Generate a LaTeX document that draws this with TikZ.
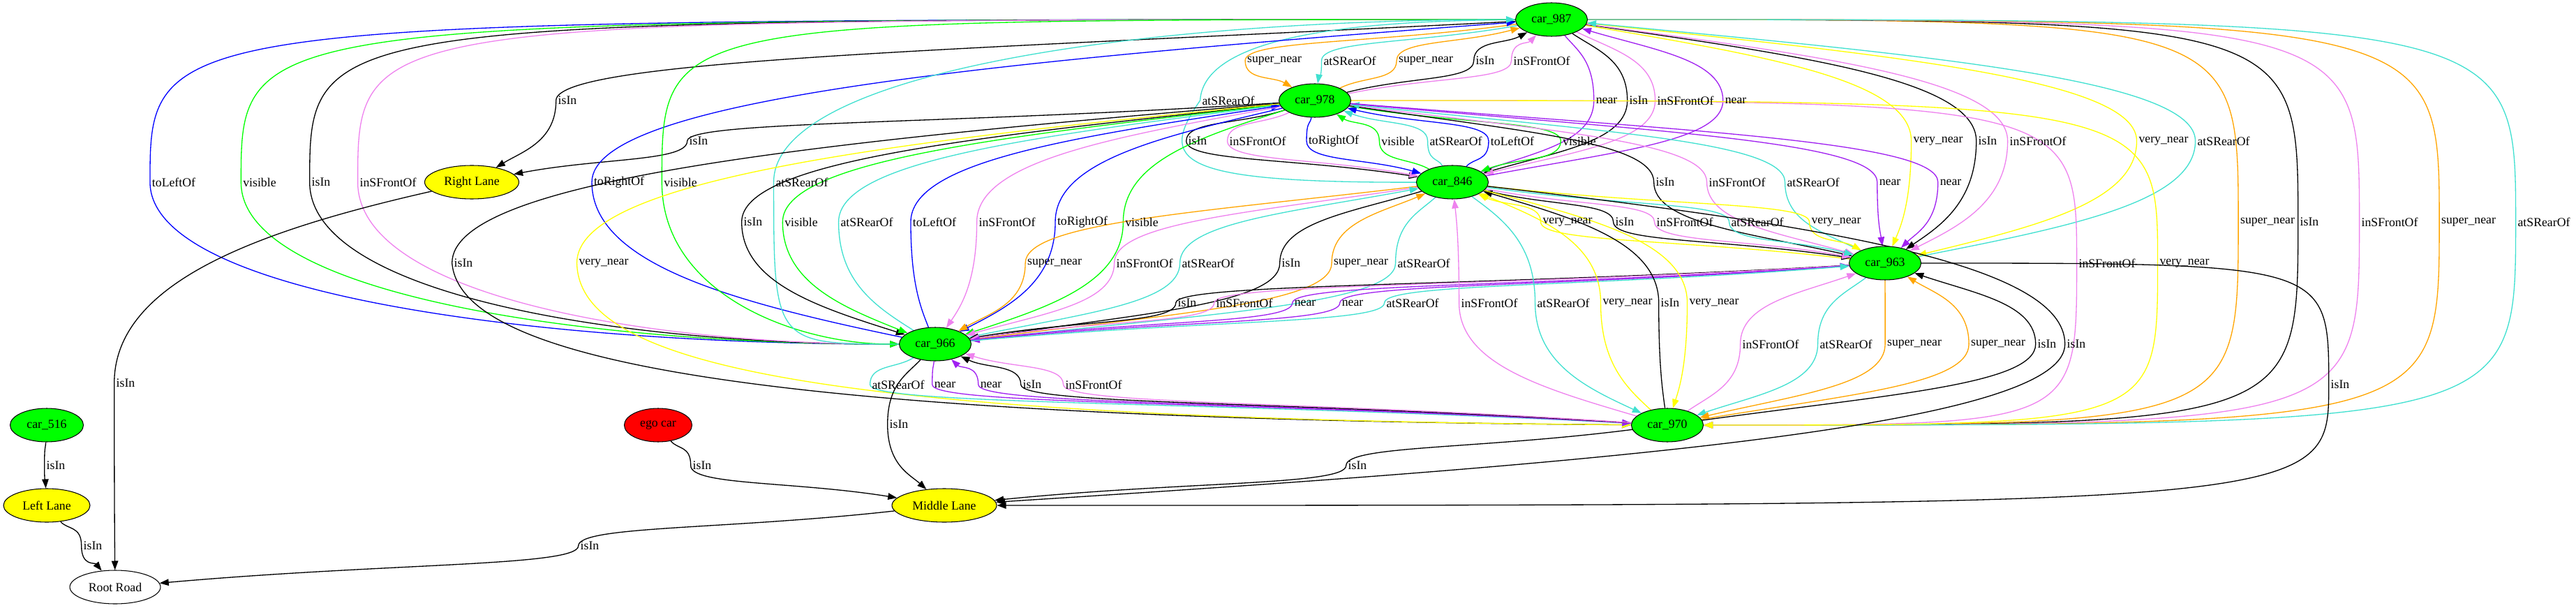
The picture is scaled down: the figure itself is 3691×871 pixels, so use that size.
\documentclass[tikz,border=0pt]{standalone}
\usepackage{fontspec}
\setmainfont{Liberation Serif}
\usetikzlibrary{shapes.geometric,arrows.meta,calc,backgrounds}

\definecolor{turq}{HTML}{40E0D0}
\definecolor{viol}{HTML}{EE82EE}
\definecolor{orng}{HTML}{FFA500}
\definecolor{purp}{HTML}{A020F0}
\definecolor{grn}{HTML}{00FF00}
\definecolor{blu}{HTML}{0000FF}
\definecolor{yel}{HTML}{FFFF00}
\definecolor{rd}{HTML}{FF0000}

\begin{document}
\begin{tikzpicture}
  [x=0.02cm,y=-0.02cm,font=\fontsize{10.1}{12}\selectfont,
   bypass/.style={to path={let \p1=(\tikztostart),\p2=(#1),\p3=(\tikztotarget) in
     .. controls ({\x1+.6*(\x2-\x1)},{\y1+.15*(\y2-\y1)+sign(\y2-\y1)*15pt}) and (\x2,{.5*(\y1+\y2)}) .. (\p2)
     .. controls (\x2,{.5*(\y2+\y3)}) and ({\x3+.6*(\x2-\x3)},{\y3+.15*(\y2-\y3)+sign(\y2-\y3)*15pt}) .. (\tikztotarget) \tikztonodes}},
   sweep/.style={to path={let \p1=(\tikztostart),\p2=(#1),\p3=(\tikztotarget) in
     .. controls (\x2,\y1) and (\x2,\y1) .. (\p2)
     .. controls (\x2,\y3) and (\x2,\y3) .. (\tikztotarget) \tikztonodes}},
   swing/.style={to path={let \p1=(\tikztostart),\p2=(#1),\p3=(\tikztotarget) in
     .. controls (\x2,\y1) and (\x2,\y1) .. (\p2)
     .. controls (\x2,{\y3+.3*(\y2-\y3)}) and ({.5*(\x2+\x3)},\y3) .. (\tikztotarget) \tikztonodes}}]
  \tikzstyle{car} = [ellipse, draw, fill=grn, line width=0.6pt, inner sep=0pt, minimum width=2.06cm, minimum height=0.96cm]
  \tikzstyle{lane} = [car, fill=yel]
  \tikzstyle{lbl} = [inner sep=1.5pt]
  \tikzstyle{edge_style} = [line width=0.75pt, -{Triangle[length=0.26cm,width=0.19cm]}]
  \tikzstyle{is_in} = [edge_style, draw=black]
  \tikzstyle{rear_of} = [edge_style, draw=turq]
  \tikzstyle{front_of} = [edge_style, draw=viol]
  \tikzstyle{super_near} = [edge_style, draw=orng]
  \tikzstyle{very_near} = [edge_style, draw=yel]
  \tikzstyle{near_by} = [edge_style, draw=purp]
  \tikzstyle{visible_to} = [edge_style, draw=grn]
  \tikzstyle{beside} = [edge_style, draw=blu]

  \useasboundingbox (0,0) rectangle (3691,871);

  % scene nodes
  \node[car] (c987) at (2223,28) {car\_987};
  \node[car] (c978) at (1884,144) {car\_978};
  \node[car] (c846) at (2081,261) {car\_846};
  \node[lane, minimum width=2.7cm] (rl) at (676,261) {Right Lane};
  \node[car] (c963) at (2701,377) {car\_963};
  \node[car] (c966) at (1340,493) {car\_966};
  \node[car] (c970) at (2389,609) {car\_970};
  \node[car, minimum width=2.1cm] (c516) at (67,609) {car\_516};
  \node[car, fill=rd, minimum width=1.94cm] (ego) at (943,609) {ego car};
  \node[lane, minimum width=2.48cm] (ll) at (67,724) {Left Lane};
  \node[lane, minimum width=3cm] (ml) at (1353,724) {Middle Lane};
  \node[lane, fill=white, minimum width=2.6cm] (rr) at (165,841) {Root Road};

  % edge labels
  \node[lbl] (t1) at (1826,87) {super\_near};
  \node[lbl] (t2) at (1934,87) {atSRearOf};
  \node[lbl] (t3) at (2043,87) {super\_near};
  \node[lbl] (t4) at (2128,87) {isIn};
  \node[lbl] (t5) at (2209,87) {inSFrontOf};
  \node[lbl] (t6) at (813,144) {isIn};
  \node[lbl] (t7) at (1760,144) {atSRearOf};
  \node[lbl] (t8) at (2302,144) {near};
  \node[lbl] (t9) at (2348,144) {isIn};
  \node[lbl] (t10) at (2415,144) {inSFrontOf};
  \node[lbl] (t11) at (2487,144) {near};
  \node[lbl] (t12) at (1001,202) {isIn};
  \node[lbl] (t13) at (1716,202) {isIn};
  \node[lbl] (t14) at (1802,202) {inSFrontOf};
  \node[lbl] (t15) at (1911,202) {toRightOf};
  \node[lbl] (t16) at (2003,202) {visible};
  \node[lbl] (t17) at (2086,202) {atSRearOf};
  \node[lbl] (t18) at (2167,202) {toLeftOf};
  \node[lbl] (t19) at (2263,202) {visible};
  \node[lbl] (t20) at (2777,202) {very\_near};
  \node[lbl] (t21) at (2848,202) {isIn};
  \node[lbl] (t22) at (2920,202) {inSFrontOf};
  \node[lbl] (t23) at (3100,202) {very\_near};
  \node[lbl] (t24) at (3186,202) {atSRearOf};
  \node[lbl] (t25) at (249,261) {toLeftOf};
  \node[lbl] (t26) at (372,261) {visible};
  \node[lbl] (t27) at (460,261) {isIn};
  \node[lbl] (t28) at (556,261) {inSFrontOf};
  \node[lbl] (t29) at (887,261) {toRightOf};
  \node[lbl] (t30) at (975,261) {visible};
  \node[lbl] (t31) at (1149,261) {atSRearOf};
  \node[lbl] (t32) at (2386,261) {isIn};
  \node[lbl] (t33) at (2489,261) {inSFrontOf};
  \node[lbl] (t34) at (2598,261) {atSRearOf};
  \node[lbl] (t35) at (2708,261) {near};
  \node[lbl] (t36) at (2795,261) {near};
  \node[lbl] (t37) at (1079,318) {isIn};
  \node[lbl] (t38) at (1148,318) {visible};
  \node[lbl] (t39) at (1242,318) {atSRearOf};
  \node[lbl] (t40) at (1339,318) {toLeftOf};
  \node[lbl] (t41) at (1443,318) {inSFrontOf};
  \node[lbl] (t42) at (1551,318) {toRightOf};
  \node[lbl] (t43) at (1636,318) {visible};
  \node[lbl] (t44) at (2246,318) {very\_near};
  \node[lbl] (t45) at (2328,318) {isIn};
  \node[lbl] (t46) at (2414,318) {inSFrontOf};
  \node[lbl] (t47) at (2518,318) {atSRearOf};
  \node[lbl] (t48) at (2631,318) {very\_near};
  \node[lbl] (t49) at (3249,318) {super\_near};
  \node[lbl] (t50) at (3309,318) {isIn};
  \node[lbl] (t51) at (3424,318) {inSFrontOf};
  \node[lbl] (t52) at (3537,318) {super\_near};
  \node[lbl] (t53) at (3645,318) {atSRearOf};
  \node[lbl] (t54) at (664,377) {isIn};
  \node[lbl] (t55) at (865,377) {very\_near};
  \node[lbl] (t56) at (1511,377) {super\_near};
  \node[lbl] (t57) at (1640,377) {inSFrontOf};
  \node[lbl] (t58) at (1731,377) {atSRearOf};
  \node[lbl] (t59) at (1850,377) {isIn};
  \node[lbl] (t60) at (1950,377) {super\_near};
  \node[lbl] (t61) at (2040,377) {atSRearOf};
  \node[lbl] (t62) at (3019,377) {inSFrontOf};
  \node[lbl] (t63) at (3130,377) {very\_near};
  \node[lbl] (t64) at (1701,434) {isIn};
  \node[lbl] (t65) at (1783,434) {inSFrontOf};
  \node[lbl] (t66) at (1870,434) {near};
  \node[lbl] (t67) at (1938,434) {near};
  \node[lbl] (t68) at (2024,434) {atSRearOf};
  \node[lbl] (t69) at (2134,434) {inSFrontOf};
  \node[lbl] (t70) at (2240,434) {atSRearOf};
  \node[lbl] (t71) at (2332,434) {very\_near};
  \node[lbl] (t72) at (2393,434) {isIn};
  \node[lbl] (t73) at (2456,434) {very\_near};
  \node[lbl] (t74) at (2537,493) {inSFrontOf};
  \node[lbl] (t75) at (2645,493) {atSRearOf};
  \node[lbl] (t76) at (2743,493) {super\_near};
  \node[lbl] (t77) at (2863,493) {super\_near};
  \node[lbl] (t78) at (2933,493) {isIn};
  \node[lbl] (t79) at (2975,493) {isIn};
  \node[lbl] (t80) at (1287,551) {atSRearOf};
  \node[lbl] (t81) at (1354,551) {near};
  \node[lbl] (t82) at (1420,551) {near};
  \node[lbl] (t83) at (1479,551) {isIn};
  \node[lbl] (t84) at (1567,551) {inSFrontOf};
  \node[lbl] (t85) at (3353,551) {isIn};
  \node[lbl] (t86) at (180,549) {isIn};
  \node[lbl] (t87) at (1288,608) {isIn};
  \node[lbl] (t88) at (80,667) {isIn};
  \node[lbl] (t89) at (1006,667) {isIn};
  \node[lbl] (t90) at (1945,667) {isIn};
  \node[lbl] (t91) at (133,782) {isIn};
  \node[lbl] (t92) at (845,782) {isIn};

  \begin{scope}[on background layer]
  % car_987 and car_978
  \draw[super_near, bypass=t1.west] (c987) to (c978);
  \draw[rear_of, bypass=t2.west] (c987) to (c978);
  \draw[super_near, bypass=t3.west] (c978) to (c987);
  \draw[is_in, bypass=t4.west] (c978) to (c987);
  \draw[front_of, bypass=t5.west] (c978) to (c987);
  % car_987 to Right Lane and car_846
  \draw[is_in, bypass=t6.west] (c987) to (rl);
  \draw[rear_of] (c846) .. controls (1680,262) and (1660,230) .. (t7.west)
    .. controls (1725,50) and (1950,30) .. (c987);
  \draw[near_by, bypass=t8.west] (c987) to (c846);
  \draw[is_in, bypass=t9.west] (c987) to (c846);
  \draw[front_of, bypass=t10.west] (c987) to (c846);
  \draw[near_by, bypass=t11.west] (c846) to (c987);
  % car_978 to Right Lane and car_846
  \draw[is_in, bypass=t12.west] (c978) to (rl);
  \draw[is_in, bypass=t13.west] (c978) to (c846);
  \draw[front_of, bypass=t14.west] (c978) to (c846);
  \draw[beside, bypass=t15.west] (c978) to (c846);
  \draw[visible_to, bypass=t16.west] (c846) to (c978);
  \draw[rear_of, bypass=t17.west] (c846) to (c978);
  \draw[beside, bypass=t18.west] (c846) to (c978);
  \draw[visible_to, bypass=t19.west] (c978) to (c846);
  % car_987 and car_963
  \draw[very_near, bypass=t20.west] (c987) to (c963);
  \draw[is_in, bypass=t21.west] (c987) to (c963);
  \draw[front_of, bypass=t22.west] (c987) to (c963);
  \draw[very_near, bypass=t23.west] (c987) to (c963);
  \draw[rear_of, bypass=t24.west] (c963) to (c987);
  % car_987 and car_966, round the left
  \draw[beside, swing=t25.west] (c987) to (c966);
  \draw[visible_to, swing=t26.west] (c987) to (c966);
  \draw[is_in, swing=t27.west] (c987) to (c966);
  \draw[front_of, swing=t28.west] (c987) to (c966);
  \draw[beside, bypass=t29.west] (c966) to (c987);
  \draw[visible_to, swing=t30.west] (c987) to (c966);
  \draw[rear_of, swing=t31.west] (c966) to (c987);
  % car_978 and car_963
  \draw[is_in, bypass=t32.west] (c978) to (c963);
  \draw[front_of, bypass=t33.west] (c978) to (c963);
  \draw[rear_of, bypass=t34.west] (c963) to (c978);
  \draw[near_by, bypass=t35.west] (c978) to (c963);
  \draw[near_by, bypass=t36.west] (c978) to (c963);
  % car_978 and car_966
  \draw[is_in, bypass=t37.west] (c978) to (c966);
  \draw[visible_to, bypass=t38.west] (c978) to (c966);
  \draw[rear_of, bypass=t39.west] (c966) to (c978);
  \draw[beside, bypass=t40.west] (c966) to (c978);
  \draw[front_of, bypass=t41.west] (c978) to (c966);
  \draw[beside, bypass=t42.west] (c978) to (c966);
  \draw[visible_to, bypass=t43.west] (c978) to (c966);
  % car_846 and car_963
  \draw[very_near, bypass=t44.west] (c963) to (c846);
  \draw[is_in, bypass=t45.west] (c846) to (c963);
  \draw[front_of, bypass=t46.west] (c846) to (c963);
  \draw[rear_of, bypass=t47.west] (c846) to (c963);
  \draw[very_near, bypass=t48.west] (c846) to (c963);
  % car_987 and car_970, round the right
  \draw[super_near, sweep=t49.west] (c987) to (c970);
  \draw[is_in, sweep=t50.west] (c987) to (c970);
  \draw[front_of, sweep=t51.west] (c987) to (c970);
  \draw[super_near, sweep=t52.west] (c987) to (c970);
  \draw[rear_of, sweep=t53.west] (c987) to (c970);
  % car_978 and car_970
  \draw[is_in] (c978) .. controls (1144,205) and (647,260) .. (t54.west)
    .. controls (660,520) and (1100,600) .. (c970);
  \draw[very_near] (c978) .. controls (1249,205) and (826,260) .. (t55.west)
    .. controls (830,520) and (1150,600) .. (c970);
  \draw[front_of, sweep=t62.west] (c978) to (c970);
  \draw[very_near, sweep=t63.west] (c978) to (c970);
  % car_846 and car_966
  \draw[super_near, bypass=t56.west] (c846) to (c966);
  \draw[front_of, bypass=t57.west] (c846) to (c966);
  \draw[rear_of, bypass=t58.west] (c966) to (c846);
  \draw[is_in, bypass=t59.west] (c846) to (c966);
  \draw[super_near, bypass=t60.west] (c966) to (c846);
  \draw[rear_of, bypass=t61.west] (c846) to (c966);
  % car_963 and car_966
  \draw[is_in, bypass=t64.west] (c963) to (c966);
  \draw[front_of, bypass=t65.west] (c963) to (c966);
  \draw[near_by, bypass=t66.west] (c966) to (c963);
  \draw[near_by, bypass=t67.west] (c963) to (c966);
  \draw[rear_of, bypass=t68.west] (c966) to (c963);
  % car_846 and car_970
  \draw[front_of, bypass=t69.west] (c970) to (c846);
  \draw[rear_of, bypass=t70.west] (c846) to (c970);
  \draw[very_near, bypass=t71.west] (c970) to (c846);
  \draw[is_in, bypass=t72.west] (c970) to (c846);
  \draw[very_near, bypass=t73.west] (c846) to (c970);
  % car_963 and car_970
  \draw[front_of, bypass=t74.west] (c970) to (c963);
  \draw[rear_of, bypass=t75.west] (c963) to (c970);
  \draw[super_near, bypass=t76.west] (c963) to (c970);
  \draw[super_near, bypass=t77.west] (c970) to (c963);
  \draw[is_in, bypass=t78.west] (c970) to (c963);
  % car_966 and car_970
  \draw[rear_of, bypass=t80.west] (c966) to (c970);
  \draw[near_by, bypass=t81.west] (c966) to (c970);
  \draw[near_by, bypass=t82.west] (c970) to (c966);
  \draw[is_in, bypass=t83.west] (c970) to (c966);
  \draw[front_of, bypass=t84.west] (c970) to (c966);
  % lanes and road
  \draw[is_in, bypass=t79.west] (c846) to (ml);
  \draw[is_in, sweep=t85.west] (c963) to (ml);
  \draw[is_in, bypass=t86.west] (rl) to (rr);
  \draw[is_in, bypass=t87.west] (c966) to (ml);
  \draw[is_in, bypass=t88.west] (c516) to (ll);
  \draw[is_in, bypass=t89.west] (ego) to (ml);
  \draw[is_in, bypass=t90.west] (c970) to (ml);
  \draw[is_in, bypass=t91.west] (ll) to (rr);
  \draw[is_in, bypass=t92.west] (ml) to (rr);
  \end{scope}
\end{tikzpicture}
\end{document}
